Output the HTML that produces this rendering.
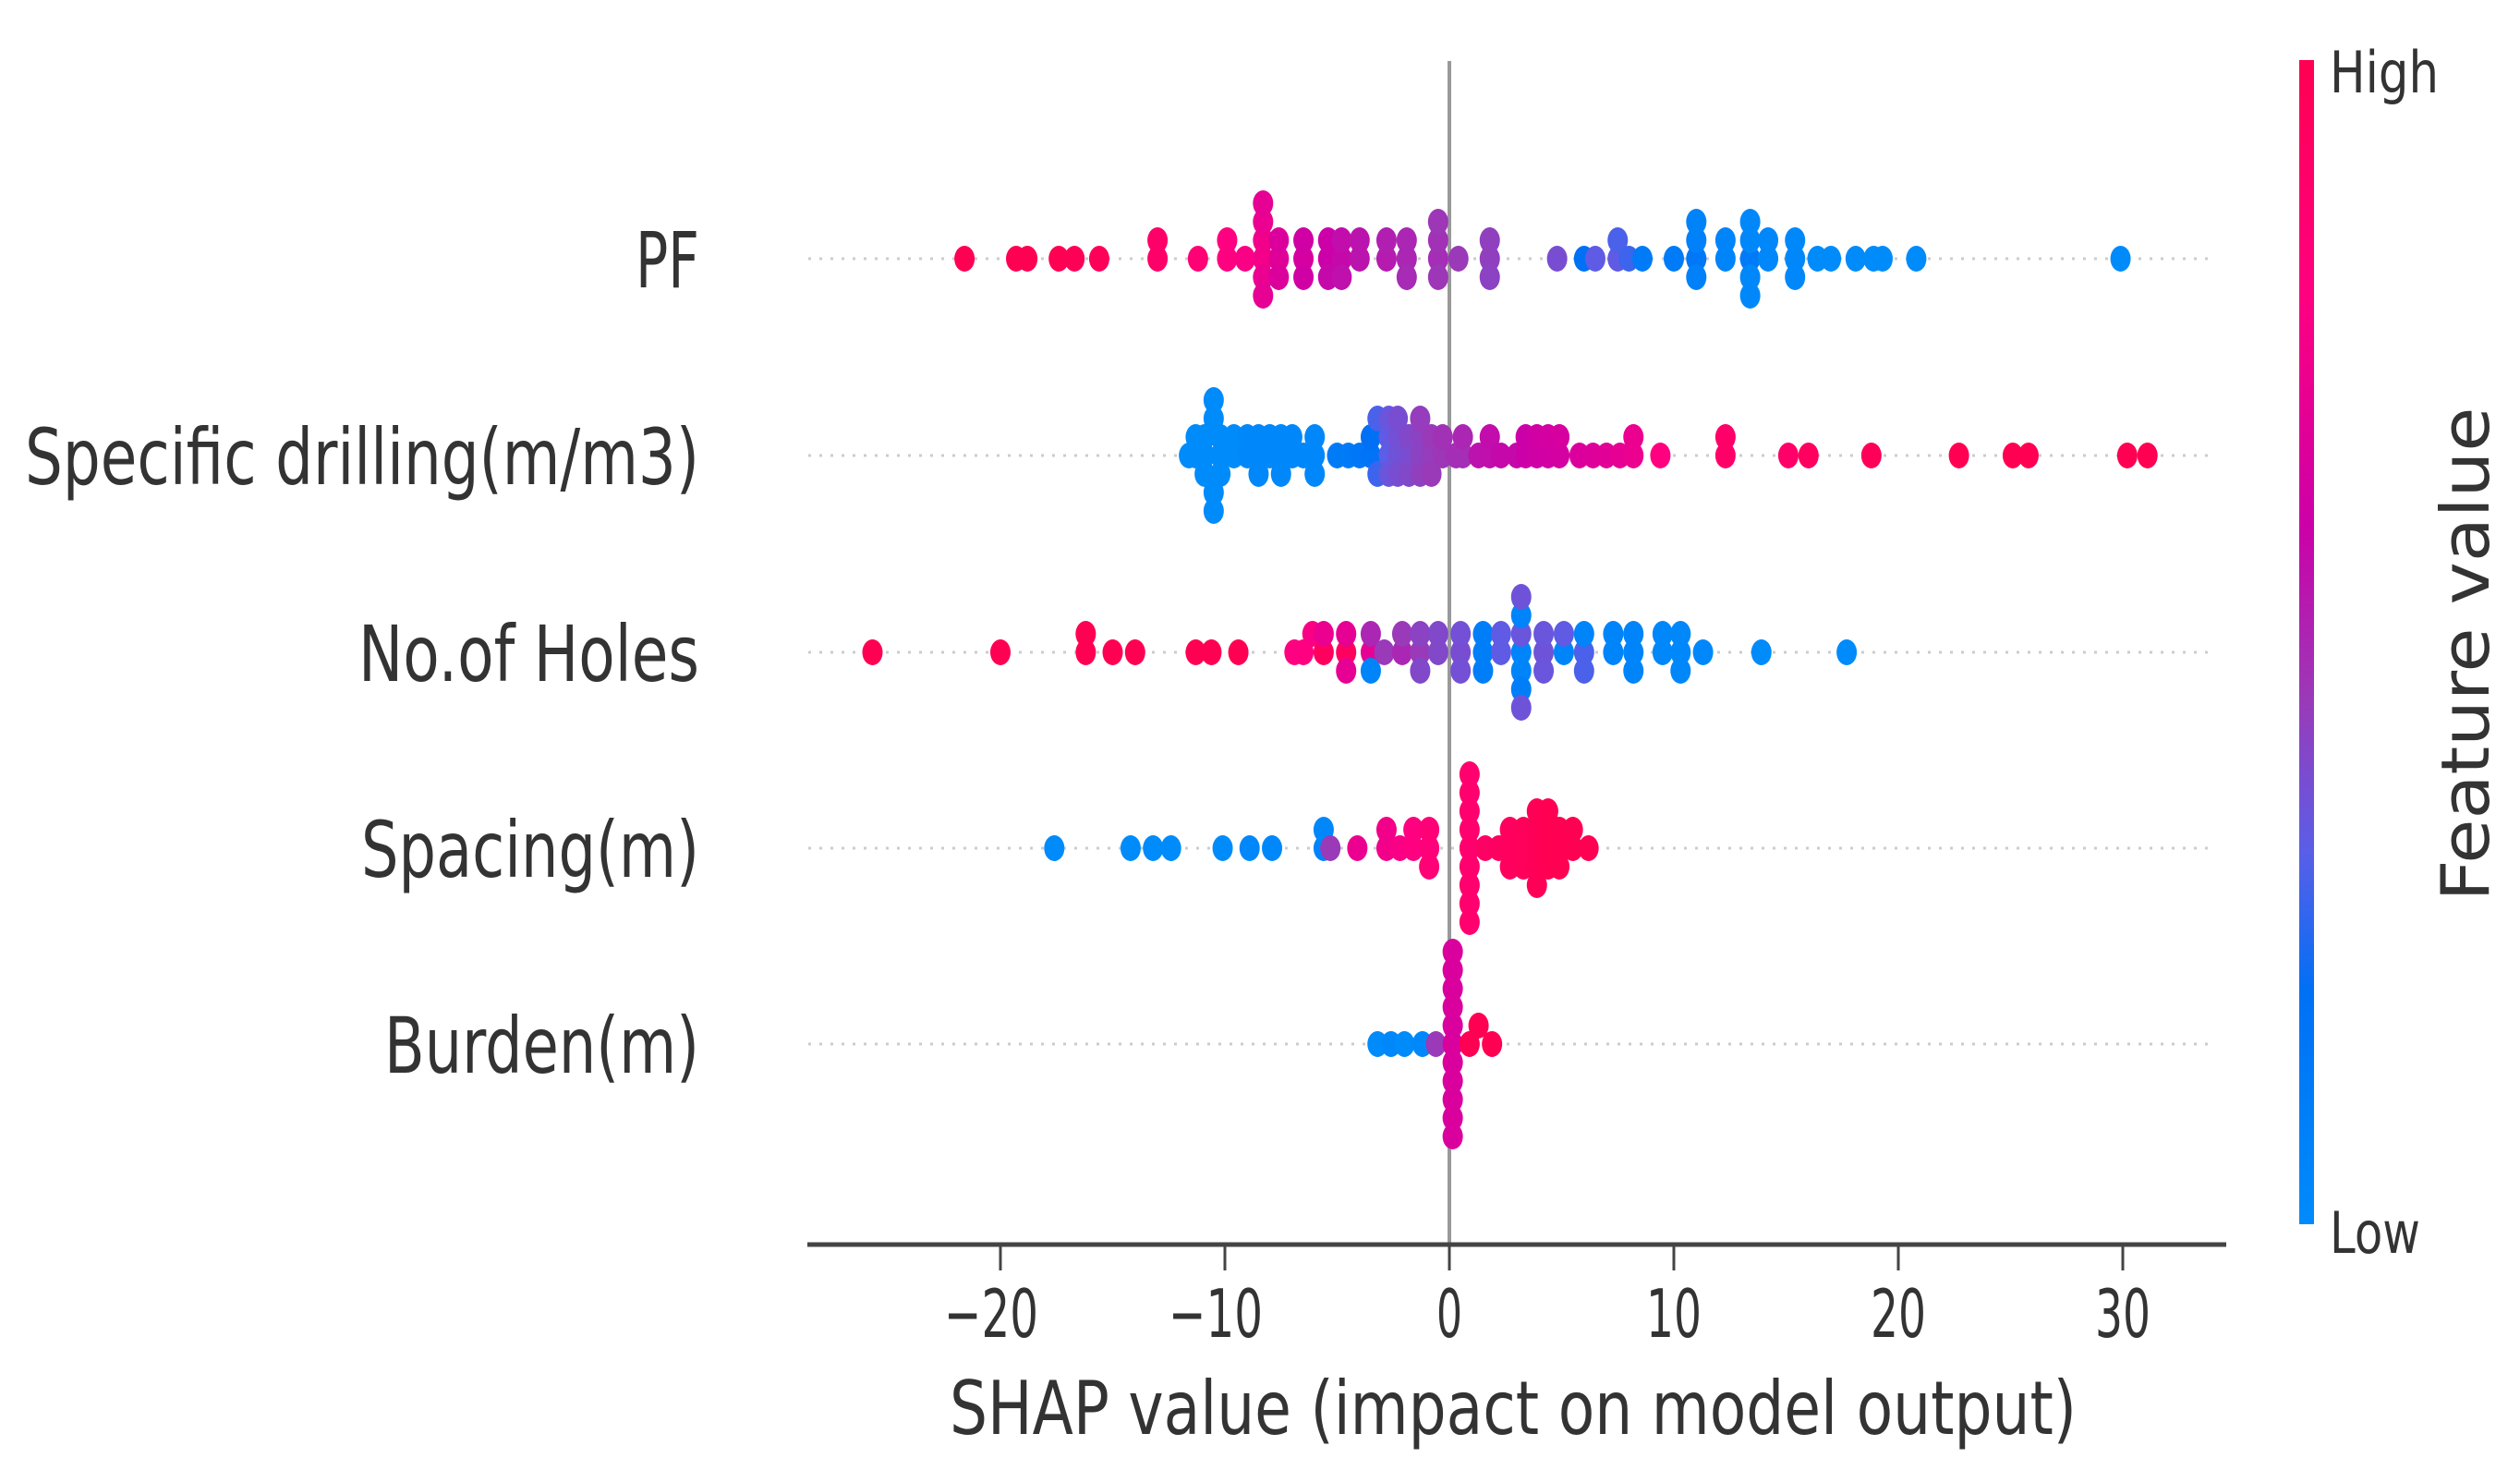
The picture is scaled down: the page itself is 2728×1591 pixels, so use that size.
<!DOCTYPE html>
<html><head><meta charset="utf-8">
<style>
html,body{margin:0;padding:0;background:#fff;}
svg{display:block;}
text{font-family:"DejaVu Sans","Liberation Sans",sans-serif;fill:#333;}
</style></head>
<body>
<svg id="chart" width="2728" height="1591" viewBox="0 0 2728 1591" xmlns="http://www.w3.org/2000/svg">
<defs>
<linearGradient id="cbar" x1="0" y1="1" x2="0" y2="0">
<stop offset="0" stop-color="#008bfb"/>
<stop offset="0.2" stop-color="#0070f5"/>
<stop offset="0.32" stop-color="#5a5ee8"/>
<stop offset="0.45" stop-color="#9a3ab8"/>
<stop offset="0.6" stop-color="#cc00a8"/>
<stop offset="0.8" stop-color="#ff0080"/>
<stop offset="1" stop-color="#ff0052"/>
</linearGradient>
</defs>
<g id="grid"></g>
<line id="zero" y1="66" y2="1346" stroke="#999" stroke-width="4"/>
<g id="dots"></g>
<g id="ylabels"></g>
<line x1="874" x2="2410" y1="1347" y2="1347" stroke="#444" stroke-width="5"/>
<g id="xticks"></g>
<text x="1638" y="1552" font-size="80" text-anchor="middle" textLength="1220" lengthAdjust="spacingAndGlyphs">SHAP value (impact on model output)</text>
<rect x="2489" y="65" width="16" height="1260" fill="url(#cbar)"/>
<text x="2522" y="100" font-size="62" textLength="118" lengthAdjust="spacingAndGlyphs">High</text>
<text x="2522" y="1356" font-size="62" textLength="98" lengthAdjust="spacingAndGlyphs">Low</text>
<text transform="translate(2694,708) rotate(-90)" font-size="72" text-anchor="middle" textLength="535" lengthAdjust="spacingAndGlyphs">Feature value</text>
</svg>
<script>
const features = ["PF","Specific drilling(m/m3)","No.of Holes","Spacing(m)","Burden(m)"];
const xTicks = [-20,-10,0,10,20,30];
// [shap value, feature value 0..1]
const pfPoints = [[-21.6,1],[-19.3,1],[-18.8,1],[-17.4,1],[-16.7,0.98],[-15.6,0.97],[-13.0,0.9],[-13.0,0.9],[-11.2,0.85],[-9.9,0.8],[-9.9,0.8],[-9.1,0.78],
[-8.3,0.76],[-8.3,0.75],[-8.3,0.72],[-8.3,0.72],[-8.3,0.7],[-8.3,0.7],[-7.6,0.68],[-7.6,0.66],[-7.6,0.66],[-6.5,0.64],[-6.5,0.62],[-6.5,0.62],
[-5.4,0.6],[-5.4,0.6],[-5.4,0.58],[-4.8,0.58],[-4.8,0.57],[-4.8,0.56],[-4.0,0.55],[-4.0,0.55],[-2.8,0.53],[-2.8,0.52],[-1.9,0.5],[-1.9,0.5],[-1.9,0.49],
[-0.5,0.48],[-0.5,0.47],[-0.5,0.46],[-0.5,0.46],[0.4,0.45],[1.8,0.43],[1.8,0.43],[1.8,0.42],[4.8,0.38],[6.0,0.2],[6.5,0.33],[7.5,0.33],[7.5,0.3],[8.0,0.28],
[8.6,0.12],[10.0,0.12],[11.0,0.15],[11.0,0.08],[11.0,0.08],[11.0,0.06],[12.3,0.05],[12.3,0.05],[13.4,0.12],[13.4,0.03],[13.4,0.03],[13.4,0.02],[13.4,0.02],
[14.2,0.02],[14.2,0.02],[15.4,0.02],[15.4,0.02],[15.4,0.02],[16.4,0],[17.0,0],[18.1,0],[18.9,0],[19.3,0],[20.8,0],[29.9,0]];
const sdPoints = [[-11.6,0],[-11.3,0],[-11.3,0],[-10.9,0],[-10.9,0],[-10.9,0],[-10.5,0],[-10.5,0],[-10.5,0],[-10.5,0],[-10.2,0],[-10.2,0],[-10.2,0],[-9.6,0],[-9.6,0],
[-9.0,0.02],[-9.0,0.02],[-8.5,0.02],[-8.5,0.02],[-8.5,0.02],[-8.0,0.02],[-8.0,0.02],[-7.5,0.02],[-7.5,0.02],[-7.5,0.02],[-7.0,0.03],[-7.0,0.03],[-6.5,0.03],[-6.0,0.03],[-6.0,0.03],[-6.0,0.03],
[-5.0,0.12],[-4.5,0.12],[-4.0,0.15],[-3.5,0.18],[-3.5,0.2],[-3.2,0.28],[-3.2,0.3],[-2.7,0.32],[-2.7,0.33],[-2.7,0.35],[-2.7,0.35],[-2.3,0.36],[-2.3,0.37],[-2.3,0.38],[-2.3,0.38],
[-1.8,0.38],[-1.8,0.4],[-1.8,0.4],[-1.3,0.42],[-1.3,0.42],[-1.3,0.43],[-1.3,0.44],[-0.8,0.44],[-0.8,0.45],[-0.8,0.45],[-0.3,0.46],[-0.3,0.47],[0.3,0.48],[0.6,0.48],[0.6,0.5],
[1.3,0.55],[1.8,0.56],[1.8,0.57],[2.3,0.58],[3.0,0.58],[3.4,0.6],[3.4,0.6],[3.9,0.61],[3.9,0.62],[4.4,0.62],[4.4,0.63],[4.9,0.63],[4.9,0.64],[5.8,0.66],[6.4,0.67],[7.0,0.68],[7.6,0.7],[8.2,0.72],[8.2,0.72],
[9.4,0.8],[12.3,0.9],[12.3,0.9],[15.1,0.9],[16.0,0.95],[18.8,0.97],[22.7,1],[25.1,1],[25.8,1],[30.2,1],[31.1,1]];
const holesPoints = [[-25.7,1],[-20.0,1],[-16.2,1],[-16.2,1],[-15.0,1],[-14.0,1],[-11.3,1],[-10.6,1],[-9.4,1],[-6.9,0.8],[-6.5,0.8],[-6.1,0.78],[-5.6,0.95],[-5.6,0.72],
[-4.6,0.95],[-4.6,0.7],[-4.6,0.7],[-3.5,0.7],[-3.5,0.5],[-3.5,0.05],[-2.9,0.45],[-2.1,0.5],[-2.1,0.45],[-1.3,0.45],[-1.3,0.42],[-1.3,0.4],[-0.5,0.4],[-0.5,0.4],[0.5,0.38],[0.5,0.37],[0.5,0.37],
[1.5,0.1],[1.5,0.1],[1.5,0.1],[2.3,0.33],[2.3,0.33],[3.2,0.05],[3.2,0.35],[3.2,0.05],[3.2,0.05],[3.2,0.1],[3.2,0.36],[3.2,0.36],[4.2,0.36],[4.2,0.35],[4.2,0.35],
[5.1,0.05],[5.1,0.33],[6.0,0.3],[6.0,0.05],[6.0,0.3],[7.3,0.05],[7.3,0.05],[8.2,0.05],[8.2,0.05],[8.2,0.05],[9.5,0.03],[9.5,0.03],[10.3,0.03],[10.3,0.03],[10.3,0.03],[11.3,0.02],[13.9,0],[17.7,0]];
const spacingPoints = [[-17.6,0],[-14.2,0],[-13.2,0],[-12.4,0],[-10.1,0],[-8.9,0.02],[-7.9,0.02],[-5.6,0.05],[-5.6,0.02],[-5.3,0.45],[-4.1,0.72],[-2.8,0.75],[-2.8,0.75],[-2.2,0.78],[-1.6,0.8],[-1.6,0.8],[-0.9,0.82],[-0.9,0.84],[-0.9,0.84],
[0.9,0.88],[0.9,0.88],[0.9,0.88],[0.9,0.88],[0.9,0.88],[0.9,0.88],[0.9,0.88],[0.9,0.88],[0.9,0.88],[1.6,0.92],[2.2,0.94],[2.7,0.95],[2.7,0.95],[2.7,0.95],[3.3,0.96],[3.3,0.96],[3.3,0.96],
[3.9,0.98],[3.9,0.98],[3.9,0.98],[3.9,0.98],[3.9,0.98],[4.4,1],[4.4,1],[4.4,1],[4.4,1],[4.9,1],[4.9,1],[4.9,1],[5.5,1],[5.5,1],[6.2,1]];
const burdenPoints = [[-3.2,0],[-2.6,0.03],[-2.0,0],[-1.2,0.02],[-0.6,0.45],[0.15,0.65],[0.15,0.65],[0.15,0.65],[0.15,0.65],[0.15,0.65],[0.15,0.65],[0.15,0.65],[0.15,0.65],[0.15,0.65],[0.15,0.65],[0.15,0.65],[0.9,1],[1.3,1],[1.9,1]];
const rows = [pfPoints,sdPoints,holesPoints,spacingPoints,burdenPoints];

const NS="http://www.w3.org/2000/svg";
const X0=1569, PX=24.3;
const rowY=[280,493,706,918,1130];
function xScale(v){return X0+v*PX;}
const stops=[[0,[0,139,251]],[0.2,[0,112,245]],[0.32,[90,94,232]],[0.45,[154,58,184]],[0.6,[204,0,168]],[0.8,[255,0,128]],[1,[255,0,82]]];
function cmap(t){for(let i=1;i<stops.length;i++){if(t<=stops[i][0]){const a=stops[i-1],b=stops[i];const f=(t-a[0])/(b[0]-a[0]);const c=a[1].map((v,k)=>Math.round(v+(b[1][k]-v)*f));return `rgb(${c[0]},${c[1]},${c[2]})`;}}return 'rgb(255,0,82)';}
function mk(tag,attrs,parent){const e=document.createElementNS(NS,tag);for(const k in attrs)e.setAttribute(k,attrs[k]);parent.appendChild(e);return e;}

document.getElementById('zero').setAttribute('x1',xScale(0));
document.getElementById('zero').setAttribute('x2',xScale(0));

const grid=document.getElementById('grid');
rowY.forEach(y=>{const l=mk('line',{x1:875,x2:2396,y1:y,y2:y,stroke:'#ccc','stroke-width':3,'stroke-dasharray':'3 9'},grid);

});

const labW=[69,730,369,366,341];
const yl=document.getElementById('ylabels');
features.forEach((f,i)=>{const t=mk('text',{x:757,y:rowY[i]+31,'font-size':84,'text-anchor':'end',textLength:labW[i],lengthAdjust:'spacingAndGlyphs'},yl);t.textContent=f;

});

const xt=document.getElementById('xticks');
xTicks.forEach(v=>{const x=xScale(v);
const l=mk('line',{x1:x,x2:x,y1:1347,y2:1375,stroke:'#444','stroke-width':3},xt);


const s=(v<0?'\u2212':'')+Math.abs(v);
const w=s.length===1?28:(s.length===2?60:102);
const t=mk('text',{x:x-(v<0?10:0),y:1447,'font-size':72,'text-anchor':'middle',textLength:w,lengthAdjust:'spacingAndGlyphs'},xt);t.textContent=s;

});

const dots=document.getElementById('dots');
const STEP=20, BIN=12;
rows.forEach((pts,ri)=>{
  const sorted=pts.slice().sort((a,b)=>a[0]-b[0]);
  const counts={};
  sorted.forEach(p=>{const x=xScale(p[0]);const b=Math.round(x/BIN);const n=counts[b]||0;counts[b]=n+1;
    const lvl=n===0?0:(n%2===1?-(n+1)/2:n/2);
    const e=mk('ellipse',{cx:x,cy:rowY[ri]+lvl*STEP,rx:11,ry:14,fill:cmap(p[1])},dots);
    
    });
});
</script>
</body></html>
